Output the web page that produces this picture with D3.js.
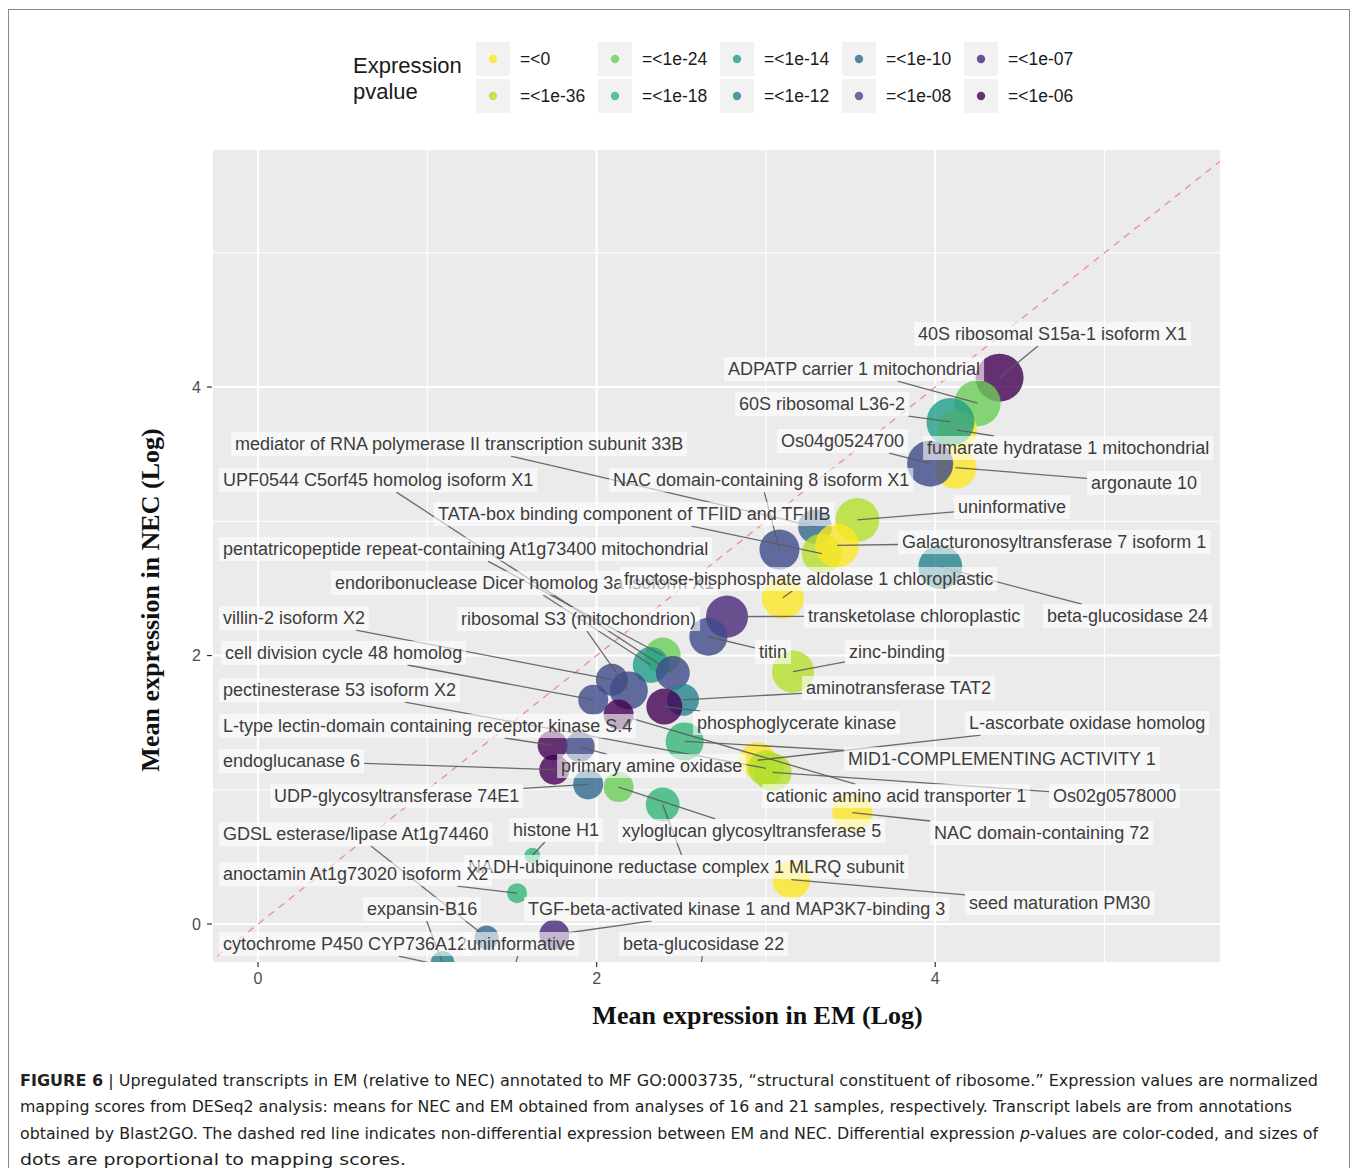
<!DOCTYPE html>
<html>
<head>
<meta charset="utf-8">
<script src="https://cdn.jsdelivr.net/npm/d3@7"></script>
<style>
  body { margin: 0; background: #ffffff; }
  svg text { font-family: "Liberation Sans", Arial, Helvetica, sans-serif; }
</style>
</head>
<body>
<svg id="fig" width="1358" height="1168"></svg>
<script>
// ---- data -----------------------------------------------------------------
const transcripts = [
  "40S ribosomal S15a-1 isoform X1",
  "ADPATP carrier 1 mitochondrial",
  "fumarate hydratase 1 mitochondrial",
  "60S ribosomal L36-2",
  "argonaute 10",
  "Os04g0524700",
  "mediator of RNA polymerase II transcription subunit 33B",
  "TATA-box binding component of TFIID and TFIIIB",
  "uninformative",
  "Galacturonosyltransferase 7 isoform 1",
  "NAC domain-containing 8 isoform X1",
  "beta-glucosidase 24",
  "transketolase chloroplastic",
  "titin",
  "zinc-binding",
  "pentatricopeptide repeat-containing At1g73400 mitochondrial",
  "endoribonuclease Dicer homolog 3a isoform X1",
  "fructose-bisphosphate aldolase 1 chloroplastic",
  "UPF0544 C5orf45 homolog isoform X1",
  "ribosomal S3 (mitochondrion)",
  "villin-2 isoform X2",
  "cell division cycle 48 homolog",
  "aminotransferase TAT2",
  "phosphoglycerate kinase",
  "cationic amino acid transporter 1",
  "MID1-COMPLEMENTING ACTIVITY 1",
  "L-type lectin-domain containing receptor kinase S.4",
  "primary amine oxidase",
  "endoglucanase 6",
  "UDP-glycosyltransferase 74E1",
  "xyloglucan glycosyltransferase 5",
  "NADH-ubiquinone reductase complex 1 MLRQ subunit",
  "L-ascorbate oxidase homolog",
  "pectinesterase 53 isoform X2",
  "Os02g0578000",
  "NAC domain-containing 72",
  "histone H1",
  "anoctamin At1g73020 isoform X2",
  "seed maturation PM30",
  "TGF-beta-activated kinase 1 and MAP3K7-binding 3",
  "GDSL esterase/lipase At1g74460",
  "expansin-B16",
  "cytochrome P450 CYP736A12",
  "uninformative",
  "beta-glucosidase 22"
];

// mean expression (log) in EM and NEC
const emExpr = [
  4.38, 4.25, 4.13, 4.09, 4.12, 3.97, 3.29, 3.33, 3.54, 3.42,
  3.08, 4.03, 2.77, 2.66, 3.16, 2.39, 2.32, 3.10, 2.45, 2.19,
  2.09, 1.98, 2.51, 2.40, 2.13, 2.52, 1.74, 1.90, 1.75, 1.95,
  2.13, 2.39, 2.95, 3.00, 3.04, 3.51, 1.62, 1.53, 3.15, 1.75,
  1.35, 1.09, 1.37, 1.48, 2.60
];
const necExpr = [
  4.07, 3.88, 3.68, 3.74, 3.40, 3.43, 2.96, 2.76, 3.01, 2.82,
  2.79, 2.66, 2.29, 2.14, 1.88, 2.00, 1.93, 2.43, 1.87, 1.74,
  1.82, 1.67, 1.67, 1.62, 1.56, 1.36, 1.33, 1.32, 1.15, 1.04,
  1.02, 0.89, 1.22, 1.16, 1.13, 0.83, 0.51, 0.23, 0.33, -0.08,
  -0.10, -0.29, -0.39, -0.49, -0.49
];
// mapping score (dot area)
const mappingScore = [
  92, 85, 64, 92, 71, 85, 46, 64, 77, 77,
  64, 77, 71, 58, 71, 52, 52, 71, 46, 58,
  41, 36, 41, 52, 36, 58, 36, 36, 36, 36,
  36, 46, 52, 52, 58, 64, 10, 16, 58, 36,
  23, 23, 23, 16, 23
];
// index into pvalueLevels
const pvalueClass = [
  9, 2, 0, 4, 0, 7, 6, 1, 1, 0,
  7, 5, 8, 7, 1, 2, 4, 0, 7, 7,
  7, 7, 5, 9, 9, 3, 9, 7, 9, 6,
  2, 3, 0, 1, 1, 0, 3, 3, 0, 8,
  6, 5, 5, 4, 3
];
const pvalueLevels = ["=<0", "=<1e-36", "=<1e-24", "=<1e-18", "=<1e-14",
                      "=<1e-12", "=<1e-10", "=<1e-08", "=<1e-07", "=<1e-06"];
const xTicks = [0, 2, 4];
const yTicks = [0, 2, 4];

// repelled label anchors (left edge of text, vertical centre), axis units
const labelEM = [
  3.898, 2.776, 3.952, 2.841, 4.920, 3.089, -0.136, 1.063, 4.135, 3.804,
  2.097, 4.660, 3.249, 2.959, 3.491, -0.207, 0.455, 2.162, -0.207, 1.199,
  -0.207, -0.195, 3.237, 2.593, 3.001, 3.485, -0.207, 1.790, -0.207, 0.095,
  2.150, 1.240, 4.200, -0.207, 4.696, 3.993, 1.506, -0.207, 4.200, 1.595,
  -0.207, 0.644, -0.207, 1.234, 2.156
];
const labelNEC = [
  4.395, 4.134, 3.546, 3.873, 3.285, 3.598, 3.575, 3.054, 3.106, 2.845,
  3.307, 2.294, 2.294, 2.026, 2.026, 2.793, 2.540, 2.570, 3.307, 2.272,
  2.279, 2.019, 1.758, 1.497, 0.953, 1.229, 1.475, 1.177, 1.214, 0.953,
  0.693, 0.425, 1.497, 1.743, 0.953, 0.678, 0.700, 0.372, 0.156, 0.112,
  0.670, 0.112, -0.149, -0.149, -0.149
];

const captionLines = [
  [{t: "FIGURE 6", b: true}, {t: " | Upregulated transcripts in EM (relative to NEC) annotated to MF GO:0003735, \u201cstructural constituent of ribosome.\u201d Expression values are normalized"}],
  [{t: "mapping scores from DESeq2 analysis: means for NEC and EM obtained from analyses of 16 and 21 samples, respectively. Transcript labels are from annotations"}],
  [{t: "obtained by Blast2GO. The dashed red line indicates non-differential expression between EM and NEC. Differential expression "}, {t: "p", i: true}, {t: "-values are color-coded, and sizes of"}],
  [{t: "dots are proportional to mapping scores."}]
];
const captionWidths = [1298, 1272, 1298, 386];

// ---- drawing --------------------------------------------------------------
const svg = d3.select("#fig");
const viridis10 = ["#FDE725", "#B4DE2C", "#6DCD59", "#35B779", "#1F9E89",
                   "#26828E", "#31688E", "#3E4A89", "#482878", "#440154"];
const color = d3.scaleOrdinal().domain(d3.range(10)).range(viridis10);

const panel = {left: 213, right: 1220, top: 150, bottom: 962};
const x = d3.scaleLinear().domain([-0.266, 5.682]).range([panel.left, panel.right]);
const y = d3.scaleLinear().domain([-0.283, 5.766]).range([panel.bottom, panel.top]);
const r = d3.scaleSqrt().domain([0, 100]).range([0, 25]);

// figure frame
svg.append("rect")
  .attr("x", 8.5).attr("y", 9.5).attr("width", 1341).attr("height", 1200)
  .attr("fill", "none").attr("stroke", "#8a8a8a").attr("stroke-width", 1);

// legend
const lg = svg.append("g");
lg.append("text").attr("x", 353).attr("y", 73).attr("font-size", 22).attr("fill", "#1a1a1a").text("Expression");
lg.append("text").attr("x", 353).attr("y", 99).attr("font-size", 22).attr("fill", "#1a1a1a").text("pvalue");
pvalueLevels.forEach((lab, i) => {
  const col = Math.floor(i / 2), row = i % 2;
  const cx = 493 + col * 122, cy = 59 + row * 37;
  lg.append("rect").attr("x", cx - 17).attr("y", cy - 17).attr("width", 34).attr("height", 34)
    .attr("fill", "#f2f2f2");
  lg.append("circle").attr("cx", cx).attr("cy", cy).attr("r", 4.2)
    .attr("fill", color(i)).attr("fill-opacity", 0.8);
  lg.append("text").attr("x", cx + 27).attr("y", cy + 6).attr("font-size", 17.5)
    .attr("fill", "#1a1a1a").text(lab);
});

// panel background and grid
svg.append("rect").attr("x", panel.left).attr("y", panel.top)
  .attr("width", panel.right - panel.left).attr("height", panel.bottom - panel.top)
  .attr("fill", "#EBEBEB");
const grid = svg.append("g");
[1, 3, 5].forEach(v => {
  grid.append("line").attr("x1", x(v)).attr("x2", x(v)).attr("y1", panel.top).attr("y2", panel.bottom)
    .attr("stroke", "#ffffff").attr("stroke-width", 1);
  grid.append("line").attr("y1", y(v)).attr("y2", y(v)).attr("x1", panel.left).attr("x2", panel.right)
    .attr("stroke", "#ffffff").attr("stroke-width", 1);
});
xTicks.forEach(v => grid.append("line").attr("x1", x(v)).attr("x2", x(v))
  .attr("y1", panel.top).attr("y2", panel.bottom).attr("stroke", "#ffffff").attr("stroke-width", 2));
yTicks.forEach(v => grid.append("line").attr("y1", y(v)).attr("y2", y(v))
  .attr("x1", panel.left).attr("x2", panel.right).attr("stroke", "#ffffff").attr("stroke-width", 2));

svg.append("defs").append("clipPath").attr("id", "panelClip")
  .append("rect").attr("x", panel.left).attr("y", panel.top)
  .attr("width", panel.right - panel.left).attr("height", panel.bottom - panel.top);
const plot = svg.append("g").attr("clip-path", "url(#panelClip)");

// line of equal expression
plot.append("line")
  .attr("x1", x(-0.3)).attr("y1", y(-0.3)).attr("x2", x(5.8)).attr("y2", y(5.8))
  .attr("stroke", "#ec8c96").attr("stroke-width", 1.3).attr("stroke-dasharray", "7,6");

const rows = transcripts.map((name, i) => ({
  name, em: emExpr[i], nec: necExpr[i], score: mappingScore[i], cls: pvalueClass[i],
  lx: labelEM[i], ly: labelNEC[i]
}));

// dots
plot.selectAll("circle.dot").data(rows).join("circle")
  .attr("class", "dot")
  .attr("cx", d => x(d.em)).attr("cy", d => y(d.nec)).attr("r", d => r(d.score))
  .attr("fill", d => color(d.cls)).attr("fill-opacity", 0.8);

// labels: measure first, then segments and boxes
const labelLayer = svg.append("g");
const segLayer = plot.append("g");
const labelFont = 18;
rows.forEach(d => {
  const g = labelLayer.append("g");
  d.rect = g.append("rect");
  d.text = g.append("text").attr("x", x(d.lx)).attr("y", y(d.ly)).attr("dy", "0.35em")
    .attr("font-size", labelFont).attr("fill", "#3d3d3d").text(d.name);
  const w = d.text.node().getComputedTextLength();
  d.box = {x0: x(d.lx) - 4, x1: x(d.lx) + w + 4, y0: y(d.ly) - 12, y1: y(d.ly) + 12};
  d.rect.attr("x", d.box.x0).attr("y", d.box.y0)
    .attr("width", d.box.x1 - d.box.x0).attr("height", d.box.y1 - d.box.y0)
    .attr("fill", "#ffffff").attr("fill-opacity", 0.6);
});

// segment from the label edge (towards the dot) to the dot centre
rows.forEach(d => {
  const px = x(d.em), py = y(d.nec);
  const b = d.box;
  const cx = (b.x0 + b.x1) / 2, cy = (b.y0 + b.y1) / 2;
  if (px >= b.x0 && px <= b.x1 && py >= b.y0 && py <= b.y1) return;
  const dx = px - cx, dy = py - cy;
  const tx = dx !== 0 ? ((dx > 0 ? b.x1 : b.x0) - cx) / dx : Infinity;
  const ty = dy !== 0 ? ((dy > 0 ? b.y1 : b.y0) - cy) / dy : Infinity;
  const t = Math.min(tx, ty);
  segLayer.append("line")
    .attr("x1", cx + dx * t).attr("y1", cy + dy * t).attr("x2", px).attr("y2", py)
    .attr("stroke", "#5c5c5c").attr("stroke-width", 1.3).attr("stroke-opacity", 0.9);
});

// axes
const axes = svg.append("g").attr("fill", "#4d4d4d");
xTicks.forEach(v => {
  axes.append("line").attr("x1", x(v)).attr("x2", x(v)).attr("y1", panel.bottom).attr("y2", panel.bottom + 5)
    .attr("stroke", "#333333").attr("stroke-width", 1.2);
  axes.append("text").attr("x", x(v)).attr("y", panel.bottom + 22).attr("text-anchor", "middle")
    .attr("font-size", 16).text(v);
});
yTicks.forEach(v => {
  axes.append("line").attr("x1", panel.left - 6).attr("x2", panel.left - 1).attr("y1", y(v)).attr("y2", y(v))
    .attr("stroke", "#333333").attr("stroke-width", 1.2);
  axes.append("text").attr("x", panel.left - 12).attr("y", y(v)).attr("dy", "0.35em")
    .attr("text-anchor", "end").attr("font-size", 16).text(v);
});

svg.append("text").attr("x", (panel.left + panel.right) / 2 + 41).attr("y", 1024)
  .attr("text-anchor", "middle").attr("font-size", 26).attr("font-weight", "bold")
  .style("font-family", "'Liberation Serif', 'Times New Roman', serif").attr("fill", "#111")
  .text("Mean expression in EM (Log)");
svg.append("text").attr("transform", `translate(159,${(panel.top + panel.bottom) / 2 + 44}) rotate(-90)`)
  .attr("text-anchor", "middle").attr("font-size", 26).attr("font-weight", "bold")
  .style("font-family", "'Liberation Serif', 'Times New Roman', serif").attr("fill", "#111")
  .text("Mean expression in NEC (Log)");

// caption
captionLines.forEach((parts, i) => {
  const t = svg.append("text").attr("x", 20).attr("y", 1086 + i * 26.3)
    .attr("font-size", 16).attr("fill", "#231f20")
    .style("font-family", "'Liberation Sans Narrow', 'DejaVu Sans Condensed', 'Arial Narrow', sans-serif")
    .attr("textLength", captionWidths[i]).attr("lengthAdjust", "spacingAndGlyphs");
  parts.forEach(p => {
    const s = t.append("tspan").text(p.t);
    if (p.b) s.attr("font-weight", "bold");
    if (p.i) s.attr("font-style", "italic");
  });
});
</script>
</body>
</html>
